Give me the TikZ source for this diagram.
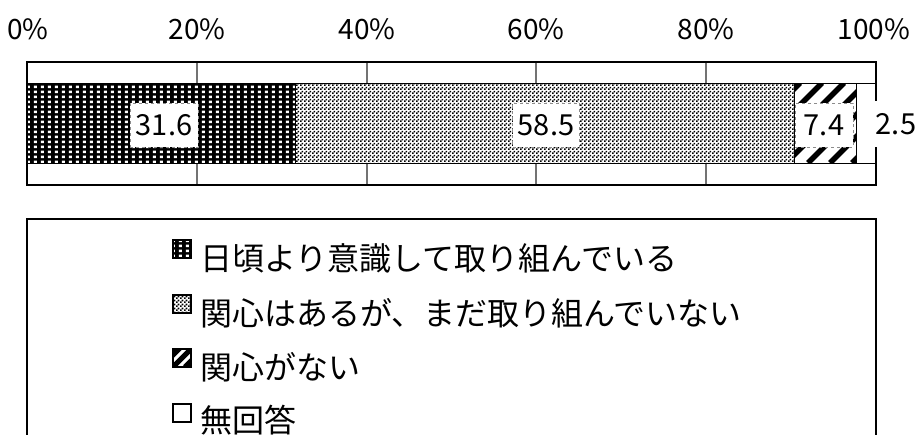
\documentclass[tikz,border=0pt]{standalone}
\usepackage{fontspec}
\setmainfont{Noto Sans CJK JP}
\usetikzlibrary{patterns.meta}
\tikzdeclarepattern{
  name=wdots, type=uncolored,
  bounding box={(0pt,0pt) and (6.6pt,5.2pt)},
  tile size={(6.6pt,5.2pt)},
  code={\fill (1pt,1pt) rectangle (4pt,3.8pt);}
}
\tikzdeclarepattern{
  name=chk, type=uncolored,
  bounding box={(0pt,0pt) and (4pt,4pt)},
  tile size={(4pt,4pt)},
  code={\fill (0pt,0pt) rectangle (2pt,2pt); \fill (2pt,2pt) rectangle (4pt,4pt);}
}
\tikzset{
  border/.style={draw=black,line width=1.8pt},
  gridc/.style={draw=black!55,line width=1.3pt},
  seg/.style={draw=black,line width=1pt},
  dotfill/.style={preaction={fill=black},pattern=wdots,pattern color=white},
  chkfill/.style={preaction={fill=white},pattern=chk,pattern color=black},
  axlab/.style={font=\fontsize{28pt}{30pt}\selectfont,anchor=base,inner sep=0pt},
  datlab/.style={fill=white,draw=black!45,dashed,line width=0.8pt,font=\fontsize{29pt}{31pt}\selectfont,
    text height=21pt,text depth=0pt,minimum height=44pt,inner sep=0pt},
  leglab/.style={font=\fontsize{32pt}{34pt}\selectfont,anchor=base west,inner sep=0pt},
  markerline/.style={draw=black,line width=1.5pt}
}
\begin{document}
\begin{tikzpicture}[x=1pt,y=-1pt]
\useasboundingbox[fill=white] (0,0) rectangle (918,434);
% axis labels
\node[axlab] (a0) at (28,39) {0\%};
\node[axlab] (a20) at (197,39) {20\%};
\node[axlab] (a40) at (367,39) {40\%};
\node[axlab] (a60) at (536,39) {60\%};
\node[axlab] (a80) at (706,39) {80\%};
\node[axlab] (a100) at (874,39) {100\%};
% grid lines
\foreach \x in {197,367,536,706} \draw[gridc] (\x,62) -- (\x,185);
% segments
\path[dotfill] (27,83) rectangle (295,163);
\draw[seg] (27,83) rectangle (295,163);
\path[chkfill] (295,83) rectangle (794,163);
\draw[seg] (295,83) rectangle (794,163);
\fill[white] (794,83) rectangle (856,163);
\begin{scope}
  \clip (794,83) rectangle (856,163);
  \foreach \x in {720,742,...,900} \draw[line width=5.5pt] (\x,163) -- ++(80,-80);
\end{scope}
\draw[seg] (794,83) rectangle (856,163);
\draw[seg] (856,83) rectangle (876,163);
% chart border
\draw[border] (27,62) rectangle (876,185);
% data labels
\node[datlab,minimum width=68pt] (d1) at (164,125) {31.6};
\node[datlab,minimum width=67pt] (d2) at (546,125) {58.5};
\node[datlab,minimum width=58pt] (d3) at (824,125) {7.4};
\node[fill=white,font=\fontsize{29pt}{31pt}\selectfont,text height=21pt,text depth=0pt,
  minimum height=46pt,minimum width=42pt,inner sep=0pt] (d4) at (896,124) {2.5};
% legend box
\draw[border] (27,440) -- (27,219) -- (876,219) -- (876,440);
% legend markers
\path[dotfill] (173,240) rectangle (191,258);
\draw[markerline] (173,240) rectangle (191,258);
\path[chkfill] (173,295) rectangle (191,313);
\draw[markerline] (173,295) rectangle (191,313);
\fill[white] (173,349) rectangle (191,367);
\begin{scope}
  \clip (173,349) rectangle (191,367);
  \foreach \d in {-12,0,12} \draw[line width=5pt] (173+\d,367) -- ++(20,-20);
\end{scope}
\draw[markerline] (173,349) rectangle (191,367);
\draw[markerline,fill=white] (173,404) rectangle (191,422);
% legend texts
\node[leglab] (l1) at (200,270) {日頃より意識して取り組んでいる};
\node[leglab] (l2) at (200,325) {関心はあるが、まだ取り組んでいない};
\node[leglab] (l3) at (200,379) {関心がない};
\node[leglab] (l4) at (200,432) {無回答};
\end{tikzpicture}
\end{document}
